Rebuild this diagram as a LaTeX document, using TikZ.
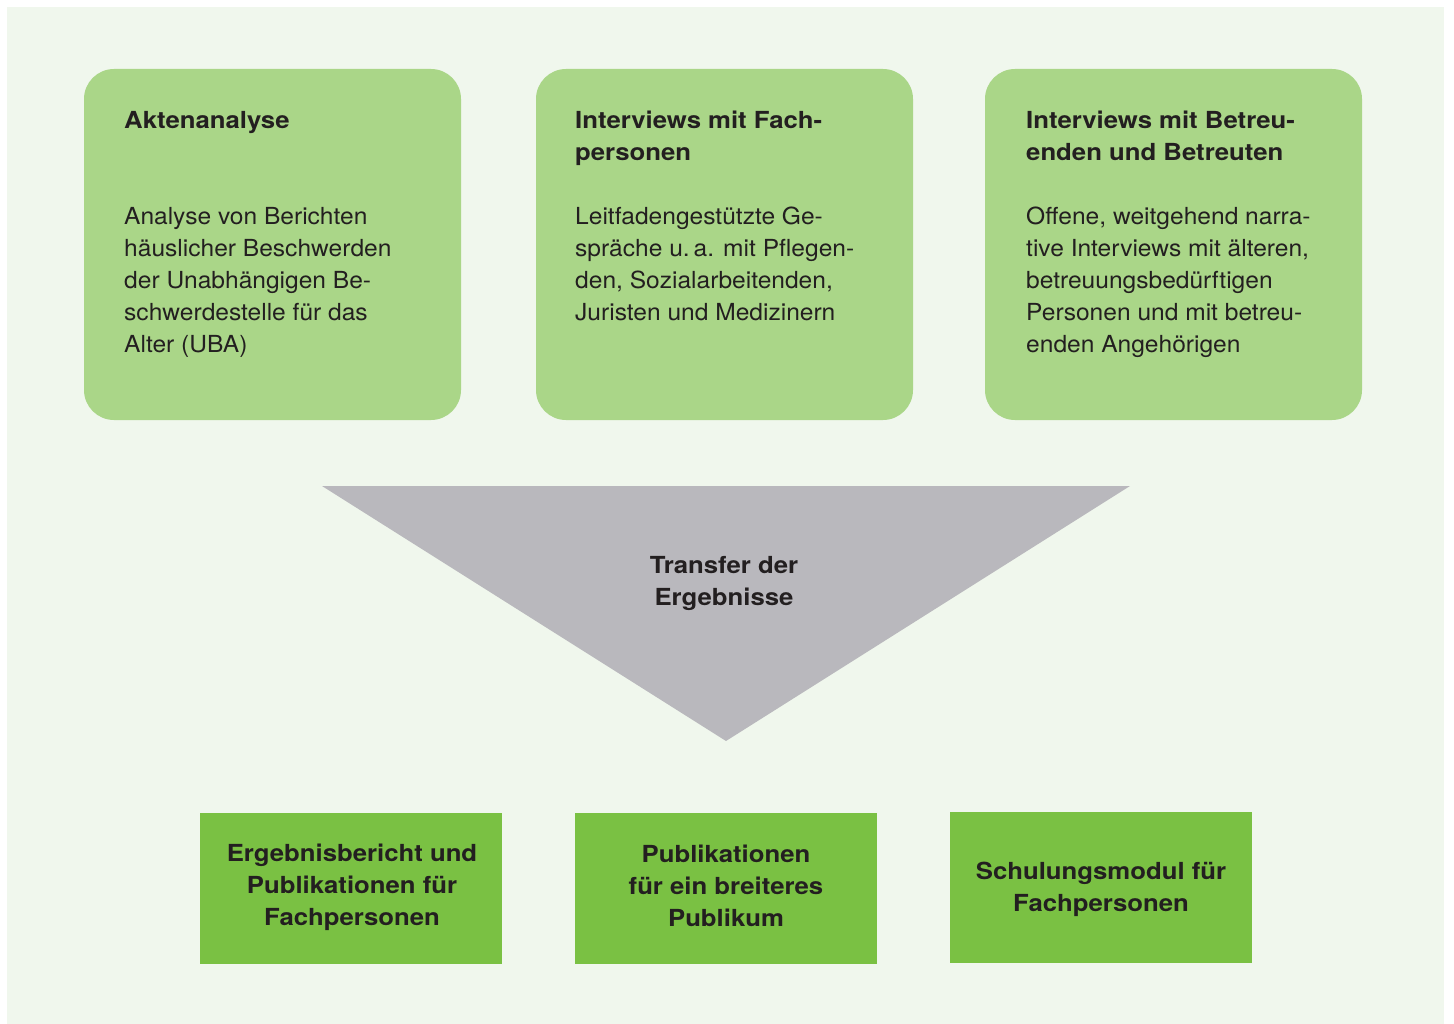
\documentclass[tikz,border=0pt]{standalone}
\usepackage{fontspec}
\setmainfont{TeX Gyre Heros}[FakeStretch=1.045]
\newfontfamily\headfont{TeX Gyre Heros}[FakeStretch=1.095]
\begin{document}
\definecolor{pagebg}{HTML}{F0F7ED}
\definecolor{methodgreen}{HTML}{AAD688}
\definecolor{outputgreen}{HTML}{7AC143}
\definecolor{transfergray}{HTML}{B9B8BD}
\definecolor{inktext}{HTML}{231F20}
\begin{tikzpicture}[x=1pt,y=-1pt,
  method/.style={fill=methodgreen, rounded corners=30pt},
  output/.style={fill=outputgreen},
  heading/.style={anchor=base west, inner sep=0pt, text=inktext,
    font=\fontsize{23.5}{32}\selectfont\headfont\bfseries},
  bodytext/.style={anchor=base west, inner sep=0pt, text=inktext,
    font=\fontsize{23.5}{32}\selectfont},
  outtext/.style={inner sep=0pt, align=center, text=inktext,
    font=\fontsize{23.5}{32}\selectfont\headfont\bfseries}]
  % page and panel background
  \useasboundingbox (0,0) rectangle (1454,1024);
  \fill[white] (0,0) rectangle (1454,1024);
  \fill[pagebg] (7,7) rectangle (1444,1024);

  % three method boxes
  \fill[method] (84,69) rectangle (461,420);
  \fill[method] (536,69) rectangle (913,420);
  \fill[method] (985,69) rectangle (1362,420);

  \node[heading] (h1) at (124,129) {\parbox[t]{330pt}{Aktenanalyse}};
  \node[bodytext] (b1) at (124,225) {\parbox[t]{330pt}{Analyse von Berichten\\
    häuslicher Beschwerden\\der Unabhängigen Be-\\schwerdestelle für das\\Alter (UBA)}};

  \node[heading] (h2) at (575,129) {\parbox[t]{330pt}{Interviews mit Fach-\\personen}};
  \node[bodytext] (b2) at (575,225) {\parbox[t]{330pt}{Leitfadengestützte Ge-\\
    spräche u.\,a. mit Pflegen-\\den, Sozialarbeitenden,\\Juristen und Medizinern}};

  \node[heading] (h3) at (1026,129) {\parbox[t]{330pt}{Interviews mit Betreu-\\enden und Betreuten}};
  \node[bodytext] (b3) at (1026,225) {\parbox[t]{330pt}{Offene, weitgehend narra-\\
    tive Interviews mit älteren,\\betreuungsbedürftigen\\Personen und mit betreu-\\enden Angehörigen}};

  % transfer funnel
  \fill[transfergray] (322,486) -- (1130,486) -- (726,741) -- cycle;
  \node[outtext] (tr) at (724,583) {Transfer der\\Ergebnisse};

  % three output boxes
  \fill[output] (200,813) rectangle (502,964);
  \fill[output] (575,813) rectangle (877,964);
  \fill[output] (950,812) rectangle (1252,963);
  \node[outtext] (o1) at (352,887) {Ergebnisbericht und\\Publikationen für\\Fachpersonen};
  \node[outtext] (o2) at (726,886) {Publikationen\\für ein breiteres\\Publikum};
  \node[outtext] (o3) at (1101,889) {Schulungsmodul für\\Fachpersonen};
\end{tikzpicture}
\end{document}
